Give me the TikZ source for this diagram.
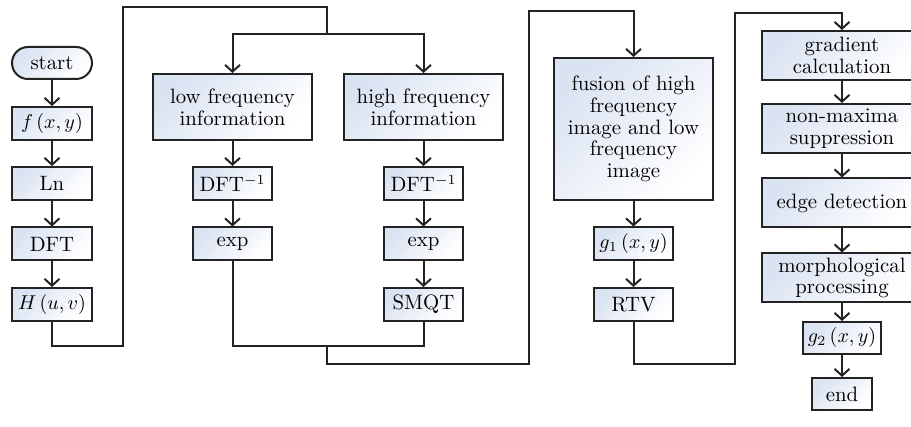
\documentclass[tikz,border=0pt]{standalone}
\usepackage{amsmath}
\usepackage{tikz}
\usetikzlibrary{arrows.meta}
\definecolor{boxblue}{RGB}{218,227,242}
\definecolor{linegray}{RGB}{35,35,35}
\begin{document}
\begin{tikzpicture}[x=0.5pt, y=-0.5pt,
  box/.style={draw=linegray, line width=1pt, top color=boxblue, bottom color=white,
    shading angle=45, align=center, inner sep=1pt,
    font=\fontsize{10.4}{10.9}\selectfont},
  small/.style={box, minimum width=39.5pt, minimum height=16.5pt},
  wide/.style={box, minimum width=79.5pt, minimum height=33pt},
  side/.style={box, minimum width=80pt, minimum height=24.5pt},
  link/.style={draw=linegray, line width=1pt},
  flow/.style={link, -{Straight Barb[length=3.4pt,width=7.5pt]}}]
\clip (0,0) rectangle (911,427);
\node[box, minimum width=40pt, minimum height=16pt, rounded corners=8pt] (start) at (52,63) {start};
\node[small, minimum width=40pt] (fxy) at (52,123.5) {$f\,(x, y)$};
\node[small, minimum width=40pt] (ln) at (52,183.5) {Ln};
\node[small, minimum width=40pt] (dft) at (52,244) {DFT};
\node[small, minimum width=40pt] (huv) at (52,304.5) {$H\,(u, v)$};
\node[wide] (low) at (232.5,107) {low frequency\\information};
\node[small] (ldft) at (232.5,183.5) {DFT$^{-1}$};
\node[small] (lexp) at (232.5,244) {exp};
\node[wide] (high) at (423.5,107) {high frequency\\information};
\node[small] (hdft) at (423.5,183.5) {DFT$^{-1}$};
\node[small] (hexp) at (423.5,244) {exp};
\node[small] (smqt) at (423.5,304.5) {SMQT};
\node[wide, minimum height=71pt] (fusion) at (633.5,129) {fusion of high\\frequency\\image and low\\frequency\\image};
\node[small] (gone) at (633.5,244) {$g_1\,(x, y)$};
\node[small] (rtv) at (633.5,304.5) {RTV};
\node[side] (grad) at (842,55.5) {gradient\\calculation};
\node[side] (nonmax) at (842,128.5) {non-maxima\\suppression};
\node[side] (edge) at (842,203) {edge detection};
\node[side] (morph) at (842,278) {morphological\\processing};
\node[small, minimum width=39pt, minimum height=16pt] (gtwo) at (842,338) {$g_2\,(x, y)$};
\node[small, minimum width=30pt, minimum height=16pt] (end) at (842,394) {end};
\coordinate (bot1) at (123,346);
\coordinate (top1) at (327,7);
\coordinate (split) at (327,34);
\coordinate (merge) at (327,346);
\coordinate (bot2) at (529,364);
\coordinate (top2) at (633.5,11);
\coordinate (bot3) at (735,364);
\coordinate (top3) at (842,13);
\draw[flow] (start) -- (fxy);
\draw[flow] (fxy) -- (ln);
\draw[flow] (ln) -- (dft);
\draw[flow] (dft) -- (huv);
\draw[link] (huv) |- (bot1) |- (top1) -- (split);
\draw[flow] (split) -| (low);
\draw[flow] (split) -| (high);
\draw[flow] (low) -- (ldft);
\draw[flow] (ldft) -- (lexp);
\draw[flow] (high) -- (hdft);
\draw[flow] (hdft) -- (hexp);
\draw[flow] (hexp) -- (smqt);
\draw[link] (lexp) |- (merge);
\draw[link] (smqt) |- (merge);
\draw[flow] (merge) |- (bot2) |- (top2) -- (fusion);
\draw[flow] (fusion) -- (gone);
\draw[flow] (gone) -- (rtv);
\draw[flow] (rtv) |- (bot3) |- (top3) -- (grad);
\draw[flow] (grad) -- (nonmax);
\draw[flow] (nonmax) -- (edge);
\draw[flow] (edge) -- (morph);
\draw[flow] (morph) -- (gtwo);
\draw[flow] (gtwo) -- (end);
\end{tikzpicture}
\end{document}
